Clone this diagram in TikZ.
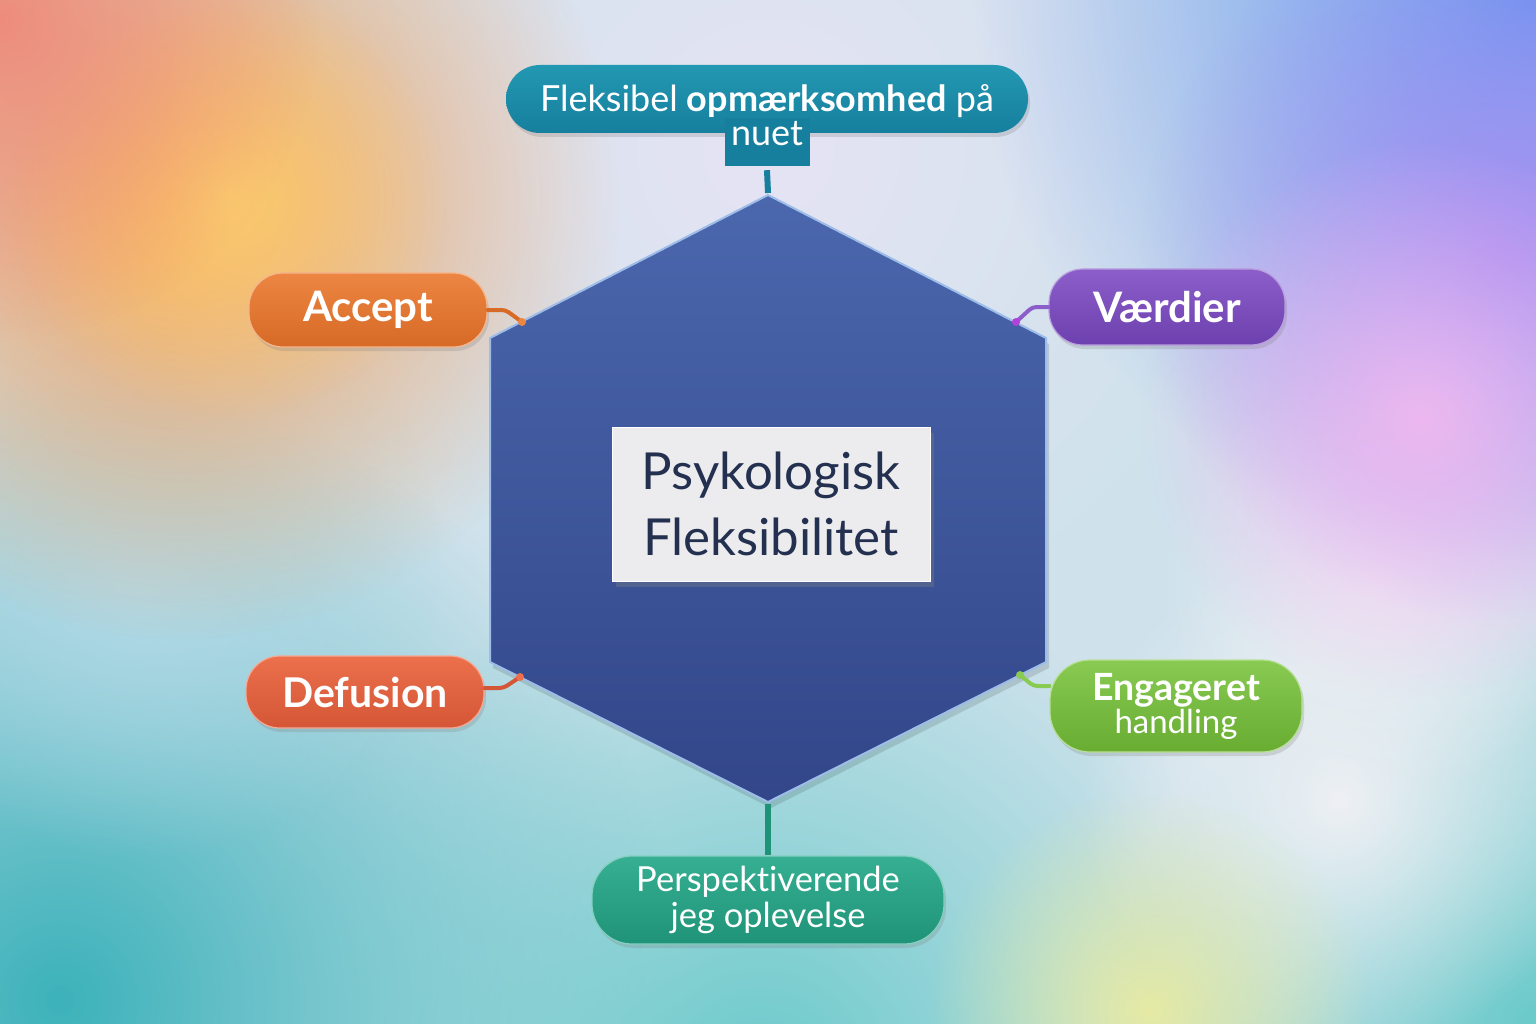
\documentclass[tikz,border=0pt]{standalone}
\usepackage{fontspec}
\setmainfont{Lato}[Ligatures=NoCommon]
\usetikzlibrary{fadings,shadows,calc}
\definecolor{bgbase}{HTML}{CFE2EC}
\definecolor{blobOrange}{HTML}{F6A05A}
\definecolor{blobYellow}{HTML}{FBCB6E}
\definecolor{blobSalmon}{HTML}{EE8C7C}
\definecolor{blobBlue}{HTML}{6A96F0}
\definecolor{blobPurple}{HTML}{A48CF2}
\definecolor{blobPink}{HTML}{EDB8F0}
\definecolor{blobTeal}{HTML}{3CB2BA}
\definecolor{blobCyan}{HTML}{6ACACA}
\definecolor{blobLime}{HTML}{E6EAA4}
\definecolor{blobLav}{HTML}{E6E4F4}
\definecolor{blobSky}{HTML}{B4DAE8}
\definecolor{blobWhite}{HTML}{EEF0F4}
\definecolor{hexTop}{HTML}{4B67AD}
\definecolor{hexBot}{HTML}{324689}
\definecolor{hexEdge}{HTML}{9DBDE8}
\definecolor{topA}{HTML}{2398B2}
\definecolor{topB}{HTML}{167F9E}
\definecolor{accA}{HTML}{EC8642}
\definecolor{accB}{HTML}{D66A26}
\definecolor{varA}{HTML}{8C5ECA}
\definecolor{varB}{HTML}{6C40AE}
\definecolor{defA}{HTML}{EC704C}
\definecolor{defB}{HTML}{D45636}
\definecolor{engA}{HTML}{88CA52}
\definecolor{engB}{HTML}{68AC32}
\definecolor{perA}{HTML}{36AF92}
\definecolor{perB}{HTML}{1F9378}
\definecolor{boxFill}{HTML}{ECECEE}
\definecolor{boxText}{HTML}{24304F}
\tikzfading[name=softblob, inner color=transparent!0, outer color=transparent!100]
\tikzset{
  blob/.style={fill=#1, path fading=softblob},
  pill/.style={rounded corners=34pt, inner sep=0pt, text=white, align=center,
    drop shadow={shadow xshift=2pt, shadow yshift=-4pt, opacity=0.25}},
  conn/.style={line width=4pt, rounded corners=4pt, line cap=round, draw=#1},
  nub/.style={fill=#1},
}
\begin{document}
\begin{tikzpicture}[x=1pt,y=-1pt]
\useasboundingbox (0,0) rectangle (1536,1024);
\begin{scope}
\clip (0,0) rectangle (1536,1024);
\fill[bgbase] (0,0) rectangle (1536,1024);
\fill[blob=blobLav] (768,150) circle (500);
\fill[blob=blobTeal] (60,1000) circle (620);
\fill[blob=blobCyan] (760,1080) circle (520);
\fill[blob=blobCyan] (1536,1024) circle (420);
\fill[blob=blobSky] (140,560) circle (300);
\fill[blob=blobWhite] (1340,800) circle (260);
\fill[blob=blobWhite] (1380,580) circle (220);
\fill[blob=blobLime] (1150,1010) circle (220);
\fill[blob=blobOrange] (180,200) circle (440);
\fill[blob=blobYellow] (230,200) circle (220);
\fill[blob=blobSalmon] (0,20) circle (320);
\fill[blob=blobBlue] (1536,0) circle (560);
\fill[blob=blobPurple] (1500,260) circle (360);
\fill[blob=blobPink] (1420,420) circle (280);
\end{scope}

% hexagon
\coordinate (hT) at (768,195);
\coordinate (hUR) at (1046,338);
\coordinate (hLR) at (1046,662);
\coordinate (hB) at (768,802);
\coordinate (hLL) at (490,662);
\coordinate (hUL) at (490,338);
\fill[black, opacity=0.12] ($(hT)+(3,6)$) -- ($(hUR)+(3,6)$) -- ($(hLR)+(3,6)$) -- ($(hB)+(3,6)$) -- ($(hLL)+(3,6)$) -- ($(hUL)+(3,6)$) -- cycle;
\shade[top color=hexTop, bottom color=hexBot, draw=hexEdge, line width=2pt, line join=miter]
  (hT) -- (hUR) -- (hLR) -- (hB) -- (hLL) -- (hUL) -- cycle;

% center box
\node[fill=boxFill, draw=white, line width=1pt, minimum width=318pt, minimum height=154pt,
  inner sep=0pt, align=center, text=boxText, font=\fontsize{51}{66}\selectfont,
  drop shadow={shadow xshift=4pt, shadow yshift=-6pt, opacity=0.35}]
  (core) at (771,504) {Psykologisk\\Fleksibilitet};

% top pill with tab
\node[pill, top color=topA, bottom color=topB, minimum width=522pt, minimum height=68pt]
  (toppill) at (767,99) {};
\node[fill=topB, inner sep=0pt, minimum width=85pt, minimum height=48pt]
  (toptab) at (767,142) {};
\node[text=white, align=center, inner sep=0pt, font=\fontsize{36}{34}\selectfont]
  (toptext) at (767,115) {Fleksibel \textbf{opmærksomhed} på\\nuet};

% side pills
\node[pill, top color=accA, bottom color=accB, draw=accA!60!white, line width=1.2pt,
  minimum width=238pt, minimum height=74pt, font=\bfseries\fontsize{42}{46}\selectfont]
  (accept) at (368,310) {Accept};
\node[pill, top color=varA, bottom color=varB, draw=varA!60!white, line width=1.2pt,
  minimum width=236pt, minimum height=76pt, font=\bfseries\fontsize{42}{46}\selectfont]
  (vaerdier) at (1167,307) {Værdier};
\node[pill, top color=defA, bottom color=defB, draw=defA!60!white, line width=1.2pt,
  minimum width=238pt, minimum height=72pt, font=\bfseries\fontsize{41}{45}\selectfont]
  (defusion) at (365,692) {Defusion};
\node[pill, top color=engA, bottom color=engB, draw=engA!60!white, line width=1.2pt,
  rounded corners=40pt, minimum width=252pt, minimum height=92pt,
  font=\fontsize{37.5}{36}\selectfont]
  (engageret) at (1176,706) {\textbf{Engageret}\\[-3pt]{\fontsize{33}{33}\selectfont handling}};
\node[pill, top color=perA, bottom color=perB, draw=perA!60!white, line width=1.2pt,
  rounded corners=40pt, minimum width=352pt, minimum height=88pt,
  font=\fontsize{34.5}{36}\selectfont]
  (persp) at (768,900) {Perspektiverende\\jeg oplevelse};

% attach points on hexagon
\coordinate (cA) at (522,322);
\coordinate (cV) at (1016,322);
\coordinate (cD) at (520,677);
\coordinate (cE) at (1020,675);

% connectors
\draw[conn=accB] (accept.east) -- ++(18,0) -- (cA);
\fill[nub=accA] (cA) circle (4);
\draw[conn=varA] (vaerdier.west) -- ++(-16,0) -- (cV);
\fill[nub=varA!70!magenta] (cV) circle (4);
\draw[conn=defB] ($(defusion.east)+(0,-4)$) -- ++(19,0) -- (cD);
\fill[nub=defA] (cD) circle (4);
\draw[conn=engA] ($(engageret.west)+(0,-20)$) -- ++(-16,0) -- (cE);
\fill[nub=engA] (cE) circle (4);
\draw[line width=6pt, draw=topB] ($(toptab.south)+(0,4)$) -- ($(hT)+(0,-2)$);
\draw[line width=6pt, draw=perB] ($(hB)+(0,2)$) -- (persp.north);
\end{tikzpicture}
\end{document}
